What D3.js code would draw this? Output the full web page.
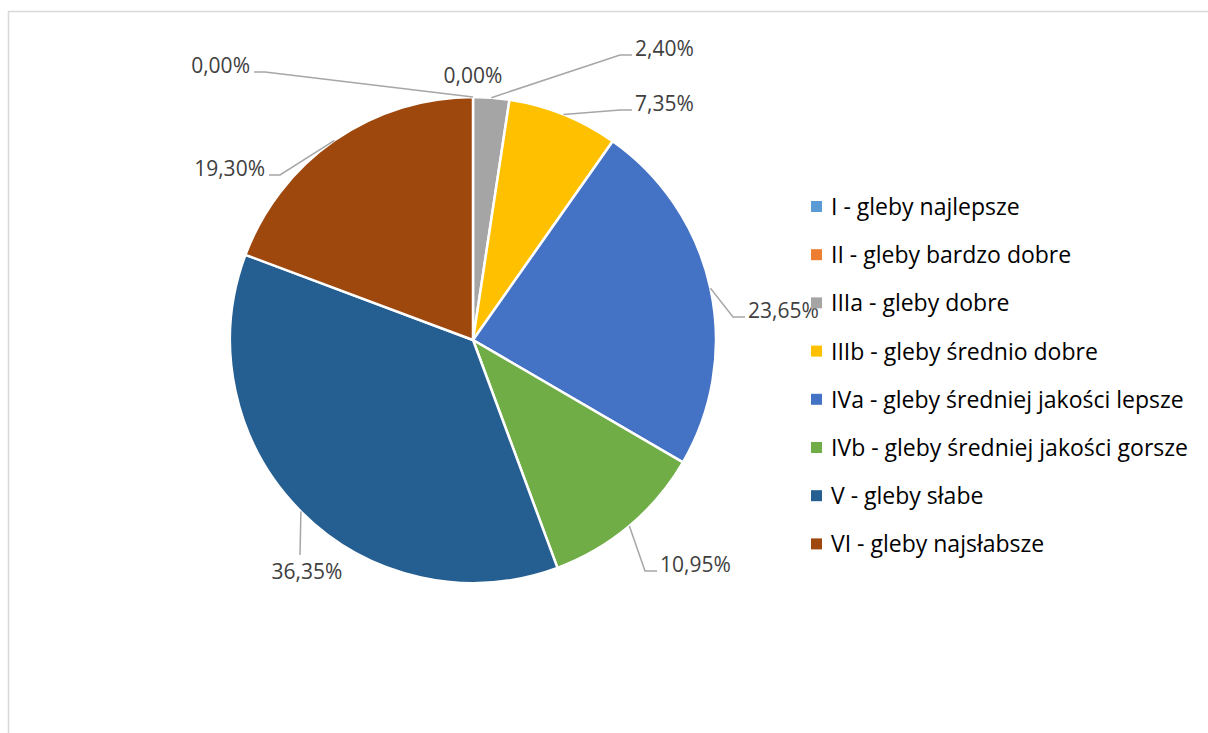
<!DOCTYPE html>
<html>
<head>
<meta charset="utf-8">
<script src="https://cdn.jsdelivr.net/npm/d3@7"></script>
<style>
  body { margin: 0; background: #fff; }
  svg { display: block; }
</style>
</head>
<body>
<div id="chart"></div>
<script>
// soil quality classes (share of area, %)
var categories = [
  "I - gleby najlepsze",
  "II - gleby bardzo dobre",
  "IIIa - gleby dobre",
  "IIIb - gleby średnio dobre",
  "IVa - gleby średniej jakości lepsze",
  "IVb - gleby średniej jakości gorsze",
  "V - gleby słabe",
  "VI - gleby najsłabsze"
];
var values = [0.00, 0.00, 2.40, 7.35, 23.65, 10.95, 36.35, 19.30];
var colors = ["#5B9BD5", "#ED7D31", "#A5A5A5", "#FFC000", "#4472C4", "#70AD47", "#255E91", "#9E480E"];

var width = 1208, height = 733;
var cx = 473, cy = 340, radius = 243;

// label placement (elbow offset from centre, side of text), Excel-style manual layout
var labelLayout = [
  { ex: -208, ey: -268, side: "left" },
  { ex: 0,    ey: -255, side: "none" },
  { ex: 147,  ey: -285, side: "right" },
  { ex: 147,  ey: -230, side: "right" },
  { ex: 260,  ey: -23,  side: "right" },
  { ex: 172,  ey: 231,  side: "right" },
  { ex: -173, ey: 215,  side: "below" },
  { ex: -193, ey: -165, side: "left" }
];

var fmt = function(v) { return v.toFixed(2).replace(".", ",") + "%"; };

var svg = d3.select("#chart").append("svg")
  .attr("width", width)
  .attr("height", height);

// chart area border
svg.append("rect")
  .attr("x", 8.5)
  .attr("y", 11.5)
  .attr("width", 1400)
  .attr("height", 900)
  .attr("fill", "none")
  .attr("stroke", "#d9d9d9")
  .attr("stroke-width", 1.5);

var pie = d3.pie().sort(null).value(function(d) { return d; });
var arcs = pie(values);
var arc = d3.arc().innerRadius(0).outerRadius(radius);

var g = svg.append("g").attr("transform", "translate(" + cx + "," + cy + ")");

g.selectAll("path.slice")
  .data(arcs)
  .enter().append("path")
    .attr("class", "slice")
    .attr("d", arc)
    .attr("fill", function(d, i) { return colors[i]; })
    .attr("stroke", "#fff")
    .attr("stroke-width", 2.5)
    .attr("stroke-linejoin", "round");

// leader lines + labels
var edgePoint = function(d) {
  var a = (d.startAngle + d.endAngle) / 2;
  return [radius * Math.sin(a), -radius * Math.cos(a)];
};

arcs.forEach(function(d, i) {
  var L = labelLayout[i];
  var p = edgePoint(d);
  var txt = g.append("text")
    .text(fmt(values[i]))
    .style("font-family", "'Open Sans', 'Noto Sans', sans-serif")
    .style("font-size", "21px")
    .style("fill", "#404040");

  if (L.side === "none") {
    txt.attr("x", p[0]).attr("y", p[1] - 14).attr("text-anchor", "middle");
    return;
  }
  var pts;
  if (L.side === "left") {
    pts = [p, [L.ex, L.ey], [L.ex - 11, L.ey]];
    txt.attr("x", L.ex - 15).attr("y", L.ey + 1).attr("text-anchor", "end");
  } else if (L.side === "right") {
    pts = [p, [L.ex, L.ey], [L.ex + 12, L.ey]];
    txt.attr("x", L.ex + 15).attr("y", L.ey + 1).attr("text-anchor", "start");
  } else {
    pts = [p, [L.ex, L.ey]];
    txt.attr("x", L.ex + 7).attr("y", L.ey + 24).attr("text-anchor", "middle");
  }
  g.insert("path", "text")
    .attr("d", d3.line()(pts))
    .attr("fill", "none")
    .attr("stroke", "#a6a6a6")
    .attr("stroke-width", 1.5);
});

// legend
var legend = svg.append("g").attr("transform", "translate(811,206.5)");
var row = legend.selectAll("g.item")
  .data(categories)
  .enter().append("g")
    .attr("class", "item")
    .attr("transform", function(d, i) { return "translate(0," + (i * 48.2) + ")"; });

row.append("rect")
  .attr("x", 0)
  .attr("y", -5.5)
  .attr("width", 11)
  .attr("height", 11)
  .attr("fill", function(d, i) { return colors[i]; });

row.append("text")
  .attr("x", 20)
  .attr("y", 8.5)
  .style("font-family", "'Open Sans', 'Noto Sans', sans-serif")
  .style("font-size", "23px")
  .style("fill", "#000")
  .text(function(d) { return d; });
</script>
</body>
</html>
